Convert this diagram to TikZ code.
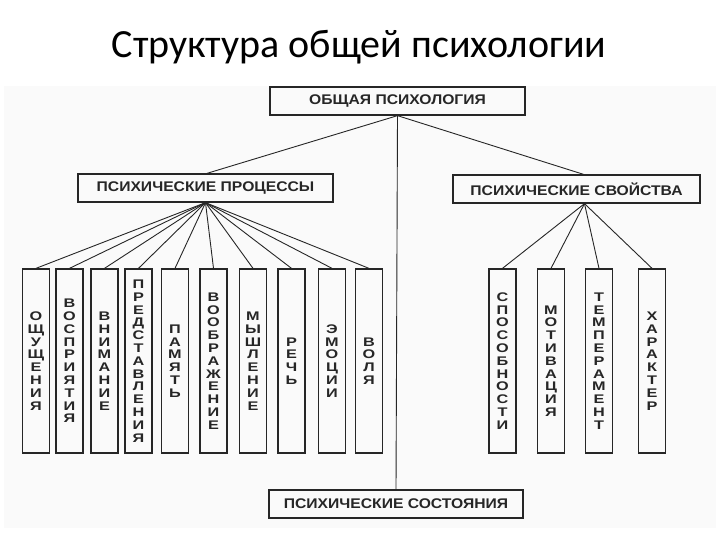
\documentclass[tikz,border=0pt]{standalone}
\usepackage{fontspec}
\setmainfont{Carlito}
\newfontfamily\boxfont{Liberation Sans}[FakeStretch=1.12]
\newfontfamily\vboxfont{Liberation Sans}[FakeStretch=1.3]
\definecolor{ink}{HTML}{262626}
\begin{document}
\begin{tikzpicture}[x=1pt,y=-1pt,
  hbox/.style={draw=ink, line width=1.3pt, inner sep=0pt, minimum height=28pt,
    text=ink, font=\boxfont\bfseries\fontsize{14}{16}\selectfont},
  vbox/.style={draw=ink, line width=1.3pt, inner sep=0pt, minimum width=27pt,
    minimum height=184pt, align=center, text=ink,
    font=\vboxfont\bfseries\fontsize{12.5}{12.8}\selectfont},
  link/.style={draw=ink, line width=0.9pt}]
\useasboundingbox (0,0) rectangle (720,540);
\fill[black!2] (4,86) rectangle (716,528);
\node[anchor=base, font=\fontsize{40}{48}\selectfont] (title) at (359,58) {Структура общей психологии};
\node[hbox, minimum width=255pt] (gen) at (397.5,101) {ОБЩАЯ ПСИХОЛОГИЯ};
\node[hbox, minimum width=255pt] (proc) at (205.5,188) {ПСИХИЧЕСКИЕ ПРОЦЕССЫ};
\node[hbox, minimum width=247pt] (prop) at (576.5,189) {ПСИХИЧЕСКИЕ СВОЙСТВА};
\node[hbox, minimum width=254pt] (state) at (396,504) {ПСИХИЧЕСКИЕ СОСТОЯНИЯ};
% processes
\node[vbox] (p1) at (36,361) {О\\Щ\\У\\Щ\\Е\\Н\\И\\Я};
\node[vbox] (p2) at (69.5,361) {В\\О\\С\\П\\Р\\И\\Я\\Т\\И\\Я};
\node[vbox] (p3) at (104.5,361) {В\\Н\\И\\М\\А\\Н\\И\\Е};
\node[vbox] (p4) at (138.5,361) {П\\Р\\Е\\Д\\С\\Т\\А\\В\\Л\\Е\\Н\\И\\Я};
\node[vbox] (p5) at (175,361) {П\\А\\М\\Я\\Т\\Ь};
\node[vbox] (p6) at (213.5,361) {В\\О\\О\\Б\\Р\\А\\Ж\\Е\\Н\\И\\Е};
\node[vbox] (p7) at (253,361) {М\\Ы\\Ш\\Л\\Е\\Н\\И\\Е};
\node[vbox] (p8) at (291.5,361) {Р\\Е\\Ч\\Ь};
\node[vbox] (p9) at (332,361) {Э\\М\\О\\Ц\\И\\И};
\node[vbox] (p10) at (369,361) {В\\О\\Л\\Я};
% properties
\node[vbox] (s1) at (502.5,361) {С\\П\\О\\С\\О\\Б\\Н\\О\\С\\Т\\И};
\node[vbox] (s2) at (551,361) {М\\О\\Т\\И\\В\\А\\Ц\\И\\Я};
\node[vbox] (s3) at (599,361) {Т\\Е\\М\\П\\Е\\Р\\А\\М\\Е\\Н\\Т};
\node[vbox] (s4) at (652,361) {Х\\А\\Р\\А\\К\\Т\\Е\\Р};
% connectors
\draw[link] (gen.south) -- ([xshift=1.5pt]proc.north);
\draw[link] (gen.south) -- ([xshift=7pt]prop.north);
\draw[link] (gen.south) -- (state.north);
\foreach \i in {1,...,10} { \draw[link] (proc.south) -- (p\i.north); }
\foreach \i in {1,...,4} { \draw[link] ([xshift=8pt]prop.south) -- (s\i.north); }
\end{tikzpicture}
\end{document}
